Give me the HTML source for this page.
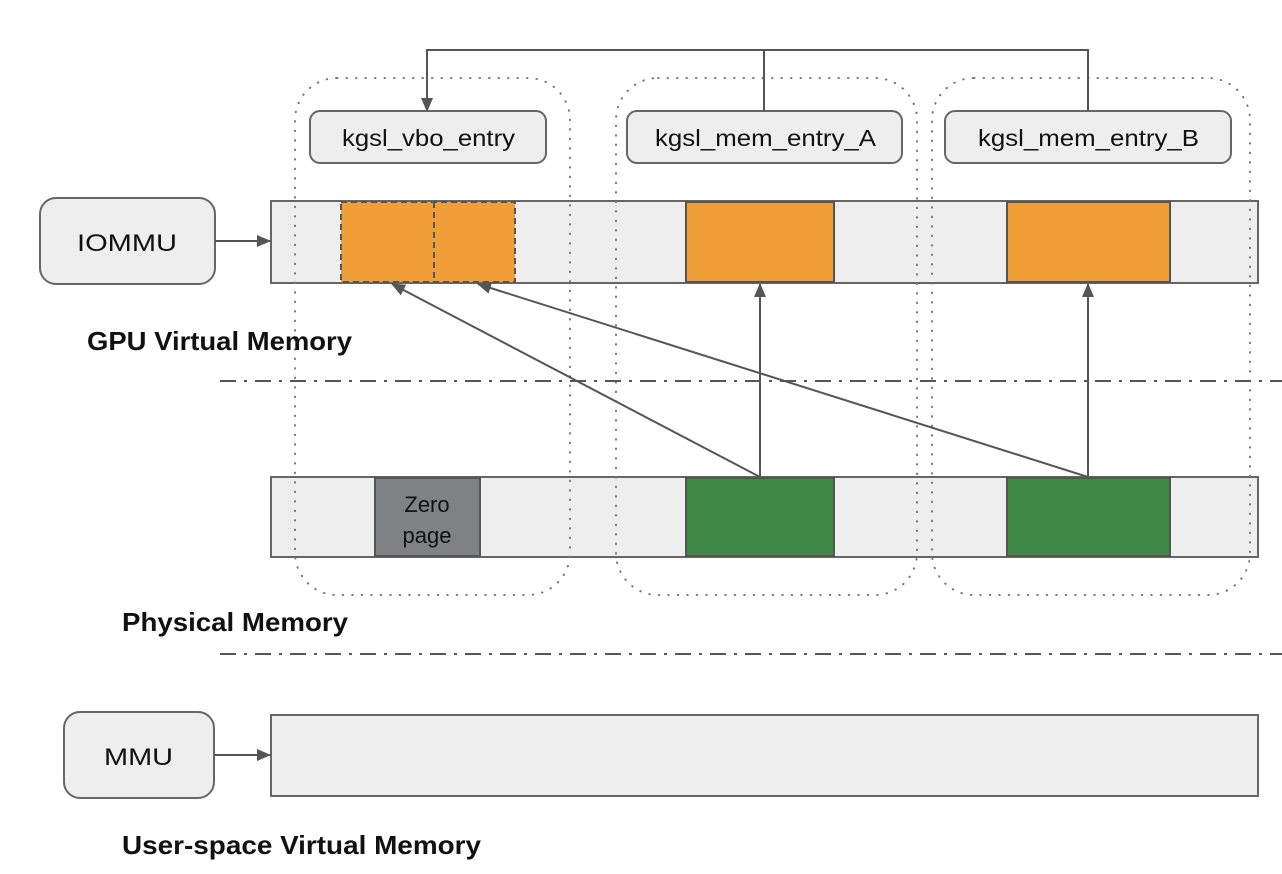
<!DOCTYPE html>
<html><head><style>body{margin:0;background:#fff}svg{display:block}text{font-family:"Liberation Sans",Arial,sans-serif}</style></head><body>
<svg width="1282" height="874" viewBox="0 0 1282 874" xmlns="http://www.w3.org/2000/svg">
<defs><marker id="a" markerWidth="14" markerHeight="12" refX="13" refY="6" orient="auto" markerUnits="userSpaceOnUse"><path d="M0,0 L14,6 L0,12 Z" fill="#555"/></marker></defs>
<rect width="1282" height="874" fill="#fff"/>
<rect x="271" y="201" width="987" height="82" fill="#eeeeee" stroke="#666" stroke-width="2"/>
<rect x="341" y="202" width="174" height="80" fill="#f09e38" stroke="#555" stroke-width="2" stroke-dasharray="6,4"/>
<line x1="434" y1="202" x2="434" y2="282" stroke="#555" stroke-width="2" stroke-dasharray="6,4"/>
<rect x="686" y="202" width="148" height="80" fill="#f09e38" stroke="#555" stroke-width="2"/>
<rect x="1007" y="202" width="163" height="80" fill="#f09e38" stroke="#555" stroke-width="2"/>
<rect x="271" y="477" width="987" height="80" fill="#eeeeee" stroke="#666" stroke-width="2"/>
<rect x="375" y="478" width="105" height="78" fill="#7f8184" stroke="#555" stroke-width="2"/>
<text x="427" y="512" font-size="22" text-anchor="middle" fill="#111">Zero</text>
<text x="427" y="543" font-size="22" text-anchor="middle" fill="#111">page</text>
<rect x="686" y="478" width="148" height="78" fill="#3f8a47" stroke="#555" stroke-width="2"/>
<rect x="1007" y="478" width="163" height="78" fill="#3f8a47" stroke="#555" stroke-width="2"/>
<rect x="271" y="715" width="987" height="81" fill="#eeeeee" stroke="#666" stroke-width="2"/>
<g fill="none" stroke="#777" stroke-width="2" stroke-dasharray="0.5,9" stroke-linecap="round">
<rect x="295" y="78" width="275" height="517" rx="42"/>
<rect x="616" y="78" width="301" height="517" rx="42"/>
<rect x="932" y="78" width="318" height="517" rx="42"/>
</g>
<g fill="#eeeeee" stroke="#666" stroke-width="2">
<rect x="310" y="111" width="236" height="52" rx="10"/>
<rect x="627" y="111" width="275" height="52" rx="10"/>
<rect x="945" y="111" width="286" height="52" rx="10"/>
<rect x="40" y="198" width="175" height="86" rx="16"/>
<rect x="64" y="712" width="150" height="86" rx="16"/>
</g>
<g font-size="23" fill="#111" lengthAdjust="spacingAndGlyphs">
<text x="342" y="146" textLength="173" lengthAdjust="spacingAndGlyphs">kgsl_vbo_entry</text>
<text x="655" y="146" textLength="221" lengthAdjust="spacingAndGlyphs">kgsl_mem_entry_A</text>
<text x="978" y="146" textLength="221" lengthAdjust="spacingAndGlyphs">kgsl_mem_entry_B</text>
<text x="77" y="251" font-size="24" textLength="100" lengthAdjust="spacingAndGlyphs">IOMMU</text>
<text x="104" y="765" font-size="24" textLength="69" lengthAdjust="spacingAndGlyphs">MMU</text>
</g>
<g stroke="#555" stroke-width="2" fill="none">
<path d="M764,111 V50 H427 V111" marker-end="url(#a)"/>
<path d="M1088,111 V50 H764"/>
<line x1="215" y1="241" x2="270" y2="241" marker-end="url(#a)"/>
<line x1="214" y1="755" x2="270" y2="755" marker-end="url(#a)"/>
<line x1="760" y1="477" x2="760" y2="284" marker-end="url(#a)"/>
<line x1="1088" y1="477" x2="1088" y2="284" marker-end="url(#a)"/>
<line x1="760" y1="477" x2="392" y2="284" marker-end="url(#a)"/>
<line x1="1088" y1="477" x2="478" y2="284" marker-end="url(#a)"/>
<line x1="220" y1="381" x2="1282" y2="381" stroke-dasharray="16,8,3,8"/>
<line x1="220" y1="654" x2="1282" y2="654" stroke-dasharray="16,8,3,8"/>
</g>
<g font-size="26" font-weight="bold" fill="#111">
<text x="87" y="350" textLength="265" lengthAdjust="spacingAndGlyphs">GPU Virtual Memory</text>
<text x="122" y="631" textLength="226" lengthAdjust="spacingAndGlyphs">Physical Memory</text>
<text x="122" y="854" textLength="359" lengthAdjust="spacingAndGlyphs">User-space Virtual Memory</text>
</g>
</svg>
</body></html>
